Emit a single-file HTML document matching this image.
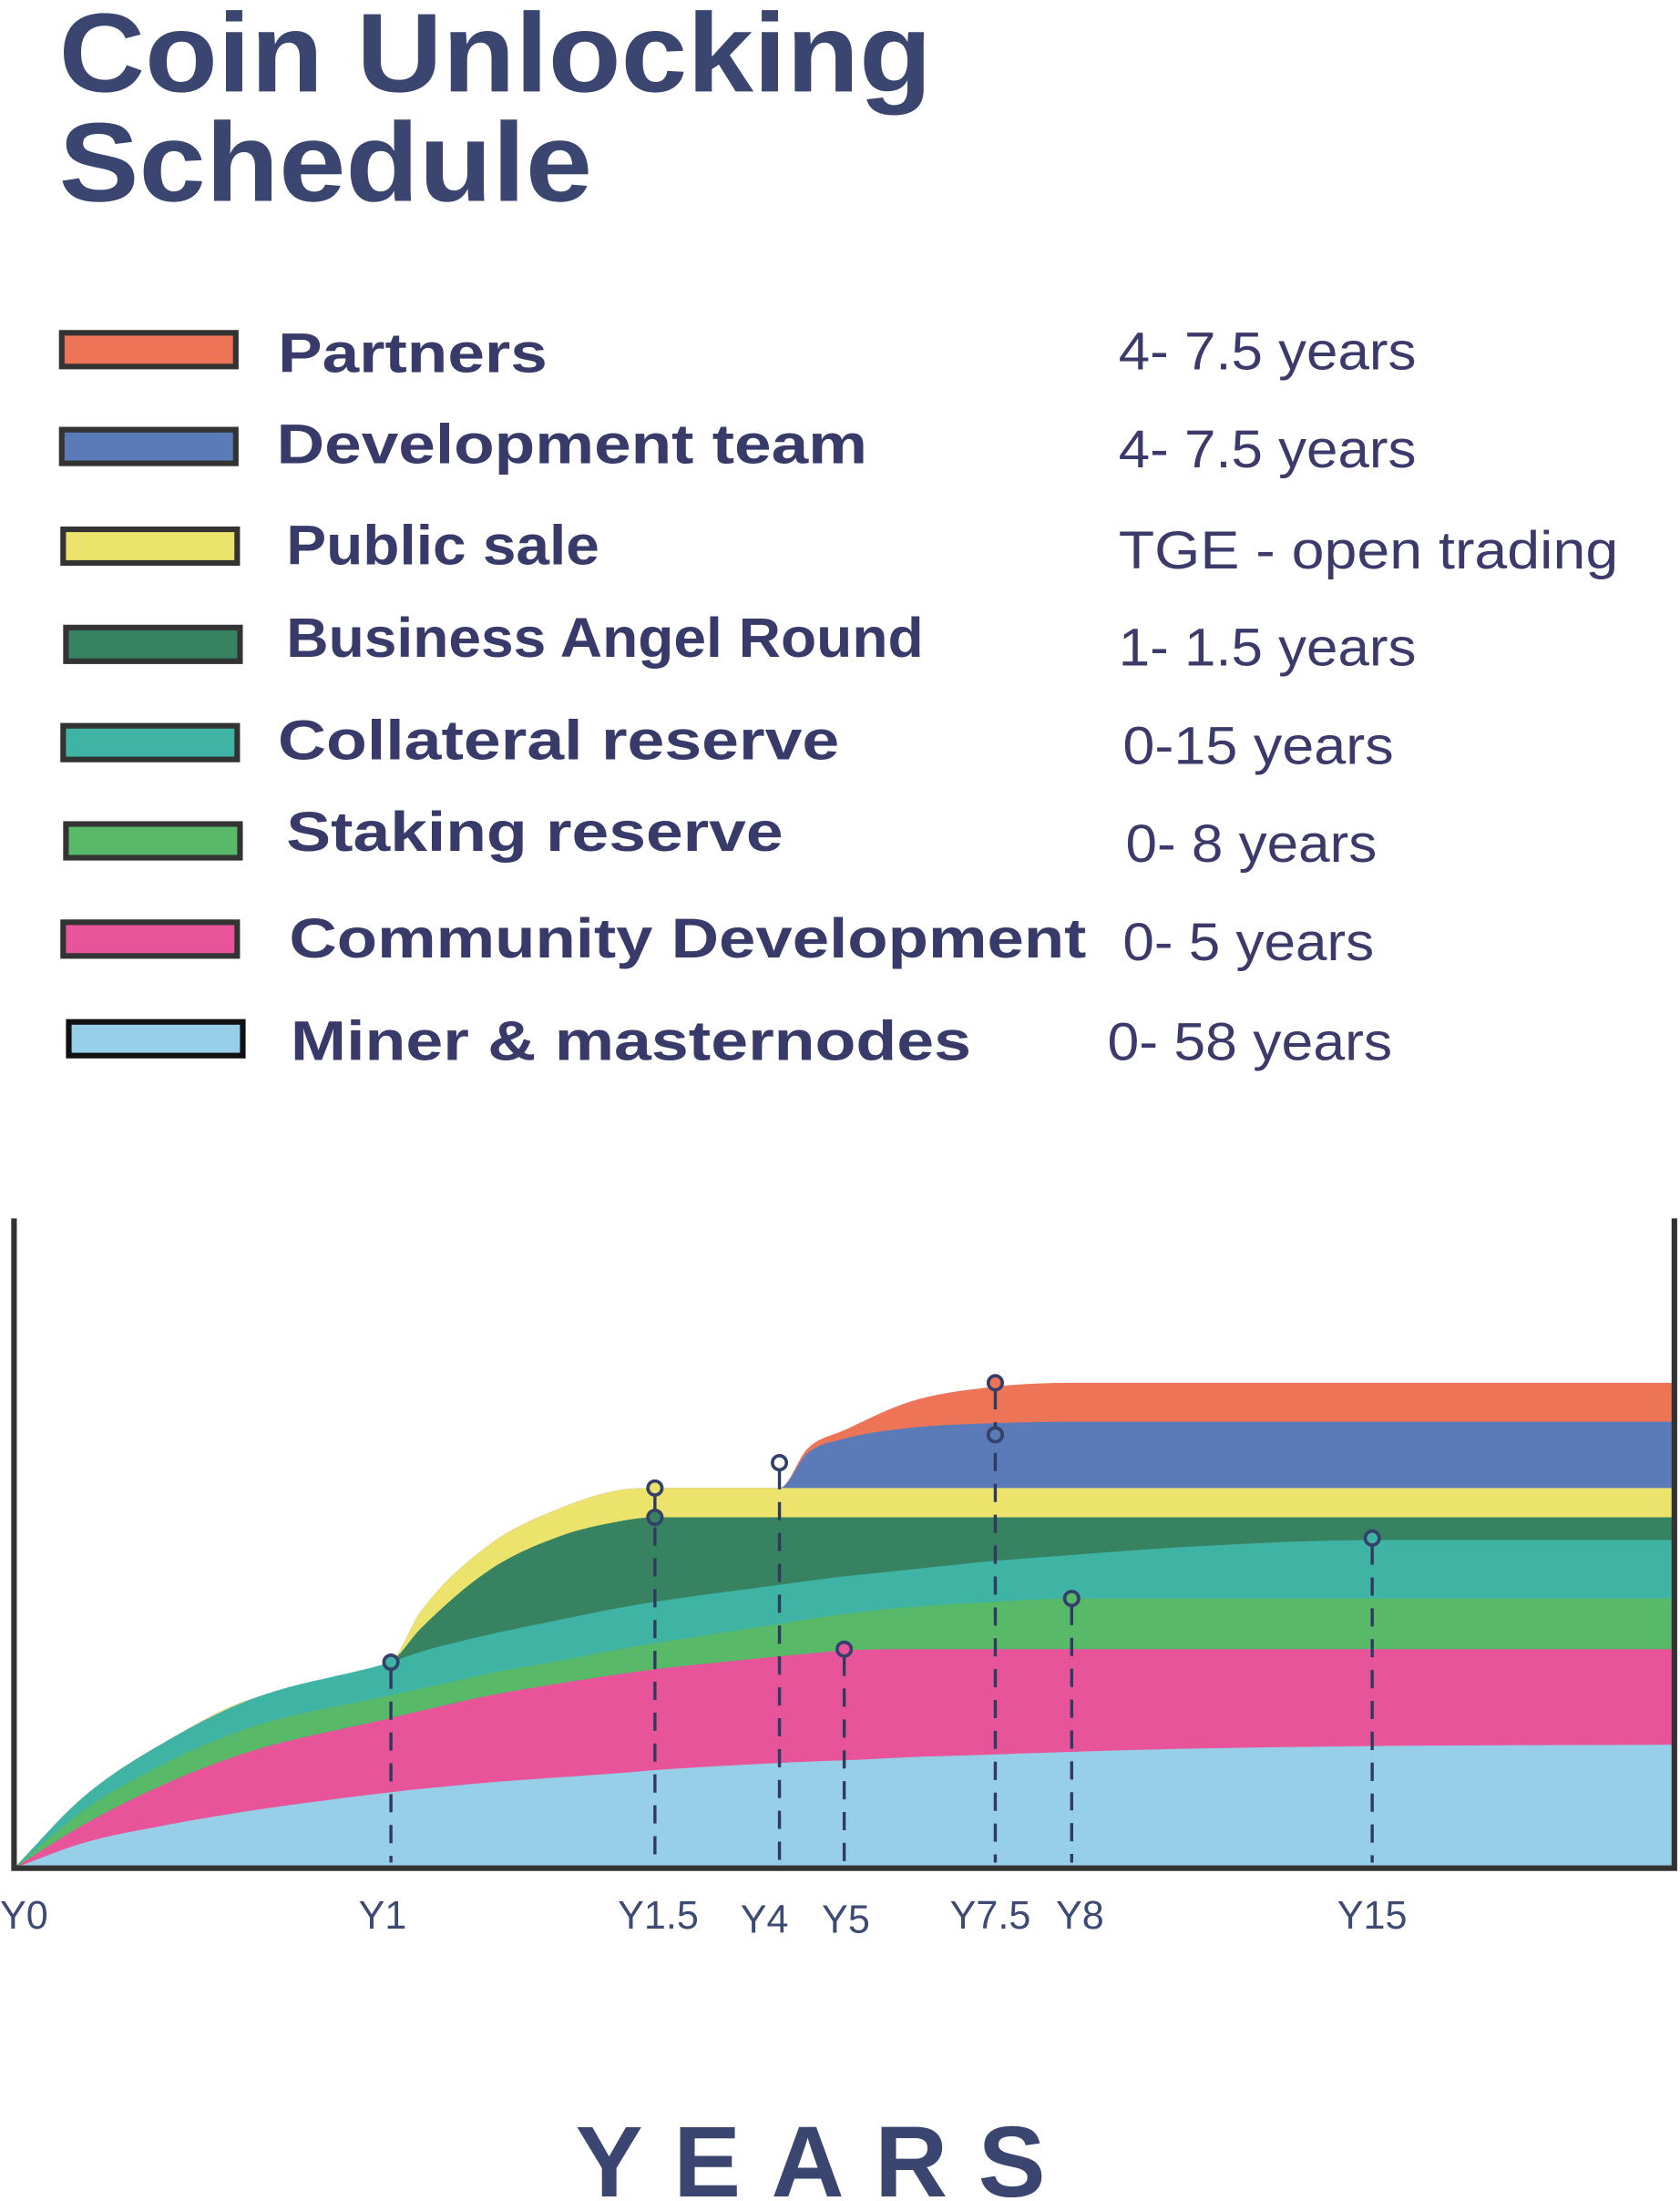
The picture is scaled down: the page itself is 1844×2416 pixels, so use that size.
<!DOCTYPE html>
<html><head><meta charset="utf-8"><style>
html,body{margin:0;padding:0;background:#fff;}
svg{display:block;}
</style></head><body>
<svg id="chart" xmlns="http://www.w3.org/2000/svg" width="1844" height="2416" viewBox="0 0 1197 1568">
<rect width="1197" height="1568" fill="#fff"/>
<g font-family="'Liberation Sans', sans-serif" font-weight="bold" fill="#3a4670">
<text x="42" y="65" font-size="80" textLength="622" lengthAdjust="spacingAndGlyphs">Coin Unlocking</text>
<text x="42" y="143" font-size="80" textLength="380" lengthAdjust="spacingAndGlyphs">Schedule</text>
</g>
<g id="legend"></g>
<g id="plot"></g>
<text x="410" y="1565" font-family="'Liberation Sans', sans-serif" font-weight="bold" font-size="72" fill="#3a4670" textLength="335" lengthAdjust="spacing">YEARS</text>
</svg>
<script>
// ---- data ----
const xs = [0,4.2,9.3,14.4,22.7,24.5,28.7,33.0,36.3,38.6,46.1,47.8,50.0,54.1,59.1,63.7,71.0,81.8,100];
const minerTop = [0,3.9,6.7,8.9,11.7,12.2,13.2,14.0,14.6,15.1,16.2,16.4,16.6,17.1,17.5,17.9,18.4,18.8,19.0];
const communityTop = [0,6.7,13.2,18.1,23.1,24.2,26.6,28.5,29.8,30.6,32.6,33.0,33.5,33.7,33.7,33.7,33.7,33.7,33.7];
const stakingTop = [0,8.9,16.4,21.8,26.6,27.6,30.0,32.0,33.6,34.6,37.6,38.3,39.1,40.2,41.0,41.5,41.5,41.5,41.5];
const collateralTop = [0,11.0,19.7,26.1,31.7,33.3,36.0,38.3,40.0,41.0,43.6,44.2,44.9,46.0,47.3,48.2,49.5,50.5,50.5];
const angelTop = [0,11.0,19.7,26.1,31.7,36.9,46.0,51.2,53.3,54.0,54.0,54.0,54.0,54.0,54.0,54.0,54.0,54.0,54.0];
const publicTop = [0,11.0,19.7,26.1,31.7,39.5,49.9,55.5,58.1,58.5,58.5,58.5,58.5,58.5,58.5,58.5,58.5,58.5,58.5];
const devTop = [0,11.0,19.7,26.1,31.7,39.5,49.9,55.5,58.1,58.5,58.5,63.9,66.1,67.8,68.5,68.7,68.7,68.7,68.7];
const partnersTop = [0,11.0,19.7,26.1,31.7,39.5,49.9,55.5,58.1,58.5,58.5,64.6,67.4,71.9,74.1,74.7,74.7,74.7,74.7];
const tickLabels = ["Y0","Y1","Y1.5","Y4","Y5","Y7.5","Y8","Y15"];
const tickPos = [0,22.2,38.8,45.2,50.1,58.8,64.2,81.8];
const markerX = [22.7,38.6,38.6,46.1,50.0,59.1,59.1,63.7,81.8];
const markerV = [31.7,58.5,54.0,62.4,33.7,74.7,66.7,41.5,50.8];
const legendNames = ["Partners","Development team","Public sale","Business Angel Round","Collateral reserve","Staking reserve","Community Development","Miner & masternodes"];
const legendPeriods = ["4- 7.5 years","4- 7.5 years","TGE - open trading","1- 1.5 years","0-15 years","0- 8 years","0- 5 years","0- 58 years"];

const NS="http://www.w3.org/2000/svg";
const colors=["#ee7458","#5a7bb8","#ece36d","#378260","#40b4a4","#58b968","#e8549a","#97cfe8"];
const markerFill=["#40b4a4","#ece36d","#378260","#ffffff","#e8549a","#ee7458","#5a7bb8","#58b968","#40b4a4"];
const L=10,R=1193,T=868,B=1331;
const X=t=>L+t/100*(R-L);
const Y=v=>B-v/100*(B-T);
function mk(tag,attrs,parent){const e=document.createElementNS(NS,tag);for(const k in attrs)e.setAttribute(k,attrs[k]);parent.appendChild(e);return e;}

function monoPath(px,py){
  const n=px.length,d=[],m=[];
  for(let i=0;i<n-1;i++)d.push((py[i+1]-py[i])/(px[i+1]-px[i]));
  m[0]=d[0];m[n-1]=d[n-2];
  for(let i=1;i<n-1;i++){ if(d[i-1]*d[i]<=0)m[i]=0; else m[i]=(d[i-1]+d[i])/2; }
  for(let i=0;i<n-1;i++){ if(d[i]===0){m[i]=0;m[i+1]=0;continue;}
    const a=m[i]/d[i],b=m[i+1]/d[i],s=a*a+b*b; if(s>9){const t=3/Math.sqrt(s);m[i]=t*a*d[i];m[i+1]=t*b*d[i];}}
  let p="M"+px[0]+","+py[0];
  for(let i=0;i<n-1;i++){const h=(px[i+1]-px[i])/3;
    p+=" C"+(px[i]+h)+","+(py[i]+m[i]*h)+" "+(px[i+1]-h)+","+(py[i+1]-m[i+1]*h)+" "+px[i+1]+","+py[i+1];}
  return p;
}

const plot=document.getElementById('plot');
const series=[partnersTop,devTop,publicTop,angelTop,collateralTop,stakingTop,communityTop,minerTop];
const snames=["partners","development-team","public-sale","business-angel-round","collateral-reserve","staking-reserve","community-development","miner-masternodes"];
series.forEach((s,i)=>{
  const px=xs.map(X),py=s.map(Y);
  const p=mk('path',{d:monoPath(px,py)+" L"+X(100)+","+B+" L"+X(0)+","+B+" Z",fill:colors[i]},plot);
  
  
});
markerX.forEach((t,i)=>{
  // only the highest marker at a given x draws the guide line
  const higher=markerX.some((t2,j)=>j!==i&&t2===t&&markerV[j]>markerV[i]);
  if(higher)return;
  const ln=mk('line',{x1:X(t),x2:X(t),y1:Y(markerV[i])+6,y2:B-4,stroke:"#2f3a5e","stroke-width":2.2,"stroke-dasharray":"13 9"},plot);
  
  
});
markerX.forEach((t,i)=>{
  const c=mk('circle',{cx:X(t),cy:Y(markerV[i]),r:5,fill:markerFill[i],stroke:"#34406a","stroke-width":2.4},plot);
  
  
});
const ax=mk('path',{d:`M${L},${T} L${L},${B} L${R},${B} L${R},${T}`,fill:"none",stroke:"#333","stroke-width":4},plot);


tickLabels.forEach((lab,i)=>{
  const t=mk('text',{x:i===0?0:X(tickPos[i]),y:(lab==="Y4"||lab==="Y5")?1377:1374,"text-anchor":i===0?"start":"middle","font-family":"'Liberation Sans', sans-serif","font-size":28,fill:"#3d4a73"},plot);
  t.textContent=lab;
  
  
});

const leg=document.getElementById('legend');
const rowY=[249,318,389,459,529,599,669,740];
const swX=[42,42,43,45,43,45,43,47];
const labX=[198,197,204,204,198,204,206,207];
const labBase=[265,330,402,468,541,606,682,755];
const labW=[192,421,223,454,400,354,568,485];
const perX=[797,797,797,797,800,802,800,789];
const perBase=[263,333,405,474,544,614,684,755];
const perW=[212,212,356,212,193,179,179,203];
legendNames.forEach((nm,i)=>{
  const r=mk('rect',{x:swX[i]+2,y:rowY[i]-12,width:124,height:24,fill:colors[i],stroke:i===7?"#111":"#333","stroke-width":4},leg);
  
  
  const t=mk('text',{x:labX[i],y:labBase[i],"font-family":"'Liberation Sans', sans-serif","font-weight":"bold","font-size":40,fill:"#383a69",textLength:labW[i],lengthAdjust:"spacingAndGlyphs"},leg);
  t.textContent=nm;
  
  
  const p=mk('text',{x:perX[i],y:perBase[i],"font-family":"'Liberation Sans', sans-serif","font-size":38,fill:"#3b3a6b",textLength:perW[i],lengthAdjust:"spacingAndGlyphs"},leg);
  p.textContent=legendPeriods[i];
  
  
});
</script>
</body></html>
